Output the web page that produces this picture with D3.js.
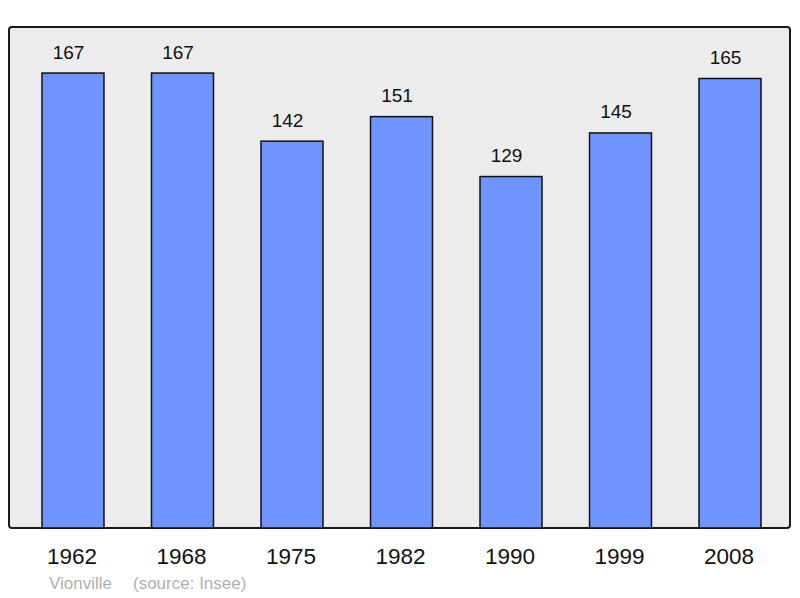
<!DOCTYPE html>
<html><head><meta charset="utf-8">
<script src="https://cdn.jsdelivr.net/npm/d3@7"></script>
<style>body{margin:0;background:#fff}svg{display:block}</style>
</head><body>
<script>
const years = ["1962","1968","1975","1982","1990","1999","2008"];
const population = [167,167,142,151,129,145,165];
const title = "Vionville";
const source = "(source: Insee)";

const W=800,H=598;
const svg=d3.select("body").append("svg").attr("width",W).attr("height",H);
const frame={x:9,y:27,w:781,h:501};
svg.append("rect").attr("x",frame.x).attr("y",frame.y).attr("width",frame.w).attr("height",frame.h)
  .attr("rx",3).attr("fill","#ececec").attr("stroke","#1a1a1a").attr("stroke-width",2);
const x=d3.scaleBand().domain(years).range([20.1,782.9]).paddingInner(0.434).paddingOuter(0.2);
const y=d3.scaleLinear().domain([0,183.9]).range([528,27]);
const data=years.map((d,i)=>({year:d,v:population[i]}));
svg.selectAll("rect.bar").data(data).join("rect").attr("class","bar")
  .attr("x",d=>x(d.year)).attr("width",x.bandwidth())
  .attr("y",d=>y(d.v)).attr("height",d=>y(0)-y(d.v))
  .attr("fill","#7094ff").attr("stroke","#111").attr("stroke-width",1.5);
svg.selectAll("text.val").data(data).join("text").attr("class","val")
  .attr("x",d=>x(d.year)+x.bandwidth()/2-4.5).attr("y",d=>y(d.v)-14.5)
  .attr("text-anchor","middle").attr("font-family","Liberation Sans, Arial, sans-serif")
  .attr("font-size",19).attr("fill","#111").text(d=>d.v);
svg.selectAll("text.yr").data(data).join("text").attr("class","yr")
  .attr("x",d=>x(d.year)+x.bandwidth()/2-1).attr("y",564)
  .attr("text-anchor","middle").attr("font-family","Liberation Sans, Arial, sans-serif")
  .attr("font-size",22.5).attr("fill","#111").text(d=>d.year);
svg.append("text").attr("x",49).attr("y",589).attr("font-family","Liberation Sans, Arial, sans-serif")
  .attr("font-size",17).attr("fill","#b0b0b0").text(title);
svg.append("text").attr("x",133).attr("y",589).attr("font-family","Liberation Sans, Arial, sans-serif")
  .attr("font-size",17).attr("fill","#b0b0b0").text(source);
</script>
</body></html>
